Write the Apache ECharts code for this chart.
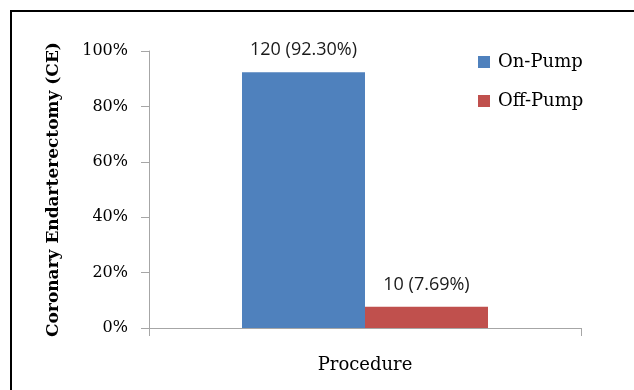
<!DOCTYPE html>
<html>
<head>
<meta charset="utf-8">
<script src="https://cdn.jsdelivr.net/npm/echarts@6/dist/echarts.min.js"></script>
<style>
  html, body { margin: 0; padding: 0; background: #fff; }
  #chart { width: 634px; height: 390px; }
</style>
</head>
<body>
<div id="chart"></div>
<script>
// Coronary endarterectomy by procedure type
const categories = ['Procedure'];
const seriesNames = ['On-Pump', 'Off-Pump'];
const counts = [120, 10];
const percents = [92.30, 7.69];
const colors = ['#4F81BD', '#C0504D'];
const yTicks = { min: 0, max: 100, step: 20 };

const serif = 'DejaVu Serif';

const chart = echarts.init(document.getElementById('chart'));

const series = seriesNames.map((name, i) => ({
  name: name,
  type: 'bar',
  data: [percents[i]],
  barWidth: 123,
  barGap: '0%',
  itemStyle: { color: colors[i] },
  label: {
    show: true,
    position: 'top',
    distance: 13,
    fontFamily: 'Open Sans',
    fontSize: 18,
    color: '#1a1a1a',
    formatter: () => counts[i] + ' (' + percents[i].toFixed(2) + '%)'
  }
}));

chart.setOption({
  animation: false,
  backgroundColor: '#fff',
  grid: { left: 149, right: 53, top: 51, bottom: 62 },
  legend: {
    orient: 'vertical',
    left: 473,
    top: 48,
    itemWidth: 12,
    itemHeight: 12,
    itemGap: 21,
    icon: 'rect',
    data: seriesNames,
    textStyle: { fontFamily: serif, fontSize: 18, color: '#000', padding: [0, 0, 0, 3] }
  },
  xAxis: {
    type: 'category',
    data: categories,
    axisLine: { lineStyle: { color: '#a6a6a6', width: 1 } },
    axisTick: { show: true, length: 8, lineStyle: { color: '#a6a6a6' } },
    axisLabel: { margin: 28, fontFamily: serif, fontSize: 18, color: '#000' }
  },
  yAxis: {
    type: 'value',
    min: yTicks.min,
    max: yTicks.max,
    interval: yTicks.step,
    name: 'Coronary Endarterectomy (CE)',
    nameLocation: 'middle',
    nameRotate: 90,
    nameGap: 87,
    nameTextStyle: { fontFamily: serif, fontSize: 17, fontWeight: 'bold', color: '#000' },
    splitLine: { show: false },
    axisLine: { show: true, lineStyle: { color: '#a6a6a6', width: 1 } },
    axisTick: { show: true, length: 8, lineStyle: { color: '#a6a6a6' } },
    axisLabel: { margin: 21, fontFamily: serif, fontSize: 16, color: '#000', formatter: '{value}%' }
  },
  graphic: [{
    type: 'rect',
    silent: true,
    shape: { x: 11, y: 11, width: 700, height: 500 },
    style: { fill: 'none', stroke: '#000', lineWidth: 2 }
  }],
  series: series
});
</script>
</body>
</html>
